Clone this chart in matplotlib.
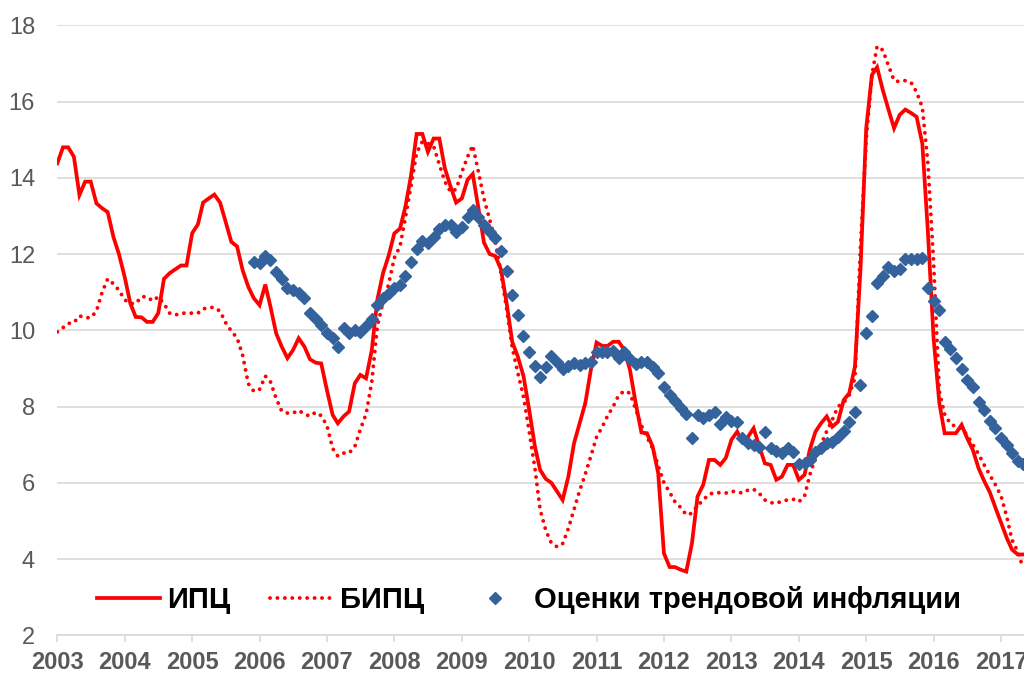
import numpy as np
import pandas as pd
import matplotlib
matplotlib.use("Agg")
import matplotlib.pyplot as plt
import matplotlib.dates as mdates

plt.rcParams['font.family'] = ['Liberation Sans', 'DejaVu Sans']

# monthly data, Jan 2003 .. May 2017
months = pd.date_range('2003-01-01', periods=173, freq='MS')

cpi = [
    14.38, 14.8, 14.8, 14.55, 13.55, 13.9, 13.9, 13.33, 13.2, 13.1, 12.45, 12.0,
    11.4, 10.7, 10.35, 10.34, 10.22, 10.22, 10.45, 11.35, 11.5, 11.6, 11.7, 11.7,
    12.55, 12.78, 13.35, 13.46, 13.56, 13.35, 12.85, 12.32, 12.2, 11.58, 11.14, 10.84,
    10.66, 11.2, 10.62, 9.92, 9.57, 9.27, 9.48, 9.79, 9.57, 9.24, 9.15, 9.13,
    8.43, 7.78, 7.56, 7.74, 7.87, 8.61, 8.83, 8.74, 9.48, 10.8, 11.5, 11.95,
    12.54, 12.67, 13.24, 14.07, 15.15, 15.15, 14.68, 15.03, 15.03, 14.25, 13.77, 13.35,
    13.46, 13.95, 14.1, 13.2, 12.3, 12.0, 11.95, 11.6, 10.7, 9.7, 9.3, 8.8,
    7.91, 6.95, 6.34, 6.1, 6.0, 5.77, 5.55, 6.16, 7.04, 7.56, 8.09, 8.96,
    9.68, 9.59, 9.59, 9.7, 9.7, 9.48, 8.96, 8.09, 7.32, 7.3, 6.95, 6.25,
    4.15, 3.79, 3.79, 3.72, 3.67, 4.42, 5.64, 5.95, 6.6, 6.6, 6.47, 6.65,
    7.13, 7.34, 7.08, 7.21, 7.43, 6.95, 6.51, 6.47, 6.08, 6.16, 6.47, 6.47,
    6.08, 6.21, 6.86, 7.34, 7.56, 7.74, 7.47, 7.6, 8.17, 8.35, 9.05, 11.6,
    15.3, 16.7, 16.9, 16.3, 15.8, 15.3, 15.65, 15.79, 15.7, 15.6, 14.9, 12.6,
    9.8, 8.1, 7.3, 7.3, 7.3, 7.52, 7.17, 6.86, 6.38, 6.05, 5.75, 5.35,
    4.95, 4.55, 4.25, 4.12, 4.12,
]

core_cpi = [
    9.96, 10.07, 10.18, 10.2, 10.38, 10.33, 10.33, 10.5, 11.0, 11.35, 11.22, 11.05,
    10.8, 10.7, 10.7, 10.88, 10.88, 10.77, 10.88, 10.7, 10.45, 10.4, 10.45, 10.45,
    10.45, 10.45, 10.56, 10.6, 10.6, 10.5, 10.2, 9.98, 9.8, 9.35, 8.6, 8.4,
    8.45, 8.8, 8.65, 8.21, 7.88, 7.83, 7.83, 7.9, 7.8, 7.75, 7.85, 7.76,
    7.5, 6.9, 6.7, 6.78, 6.78, 6.95, 7.4, 7.8, 8.65, 10.1, 10.75, 11.2,
    11.9, 12.2, 12.95, 13.8, 14.65, 14.95, 14.9, 14.83, 14.35, 13.9, 13.63, 13.7,
    14.15, 14.55, 14.85, 14.15, 13.45, 12.9, 12.35, 11.5, 10.55, 9.55, 8.87, 8.26,
    7.35, 6.38, 5.3, 4.75, 4.42, 4.32, 4.4, 4.8, 5.3, 5.79, 6.23, 6.7,
    7.2, 7.47, 7.75, 8.0, 8.3, 8.41, 8.35, 7.93, 7.5, 7.2, 6.9, 6.45,
    6.0, 5.75, 5.5, 5.35, 5.16, 5.2, 5.4, 5.55, 5.7, 5.74, 5.74, 5.73,
    5.78, 5.76, 5.73, 5.81, 5.83, 5.72, 5.55, 5.48, 5.46, 5.52, 5.55, 5.57,
    5.5, 5.65, 6.2, 6.65, 7.0, 7.35, 7.65, 8.0, 8.1, 8.3, 8.75, 12.2,
    15.0, 16.7, 17.45, 17.35, 16.95, 16.55, 16.52, 16.55, 16.5, 16.25, 15.85, 14.4,
    11.8, 8.4, 7.8, 7.55, 7.47, 7.43, 7.25, 7.0, 6.75, 6.47, 6.2, 5.95,
    5.65, 5.1, 4.5, 4.2, 3.75,
]

# trend inflation estimates start in Dec 2005
trend_start = 35
trend = [
    11.8,
    11.76, 11.95, 11.84, 11.54, 11.34, 11.1, 11.07, 10.99, 10.85, 10.45, 10.29, 10.14,
    9.94, 9.79, 9.55, 10.05, 9.94, 10.01, 9.95, 10.11, 10.29, 10.66, 10.84, 10.97,
    11.1, 11.2, 11.42, 11.8, 12.12, 12.35, 12.3, 12.44, 12.65, 12.76, 12.76, 12.58,
    12.72, 12.96, 13.15, 12.98, 12.76, 12.58, 12.43, 12.08, 11.56, 10.93, 10.4, 9.85,
    9.44, 9.06, 8.78, 9.03, 9.33, 9.18, 8.98, 9.06, 9.13, 9.09, 9.13, 9.18,
    9.42, 9.44, 9.44, 9.47, 9.27, 9.44, 9.24, 9.11, 9.16, 9.18, 9.05, 8.87,
    8.52, 8.3, 8.15, 7.95, 7.81, 7.17, 7.78, 7.7, 7.78, 7.86, 7.54, 7.72,
    7.63, 7.6, 7.17, 7.04, 6.99, 6.93, 7.34, 6.91, 6.84, 6.79, 6.91, 6.82,
    6.49, 6.51, 6.61, 6.82, 6.91, 7.04, 7.08, 7.2, 7.37, 7.6, 7.87, 8.57,
    9.92, 10.37, 11.25, 11.42, 11.67, 11.56, 11.6, 11.86, 11.86, 11.86, 11.89, 11.12,
    10.78, 10.53, 9.7, 9.5, 9.27, 8.98, 8.7, 8.51, 8.13, 7.91, 7.63, 7.43,
    7.17, 6.99, 6.78, 6.58, 6.5,
]

years = list(range(2003, 2018))
labels = ['ИПЦ', 'БИПЦ', 'Оценки трендовой инфляции']

fig = plt.figure(figsize=(10.24, 6.73), dpi=100)
ax = fig.add_axes([57.3 / 1024, 37.7 / 673, 1 - 57.3 / 1024, 610 / 673])

ax.plot(months, cpi, color='#ff0000', lw=2.7, solid_joinstyle='miter', label=labels[0])
ax.plot(months, core_cpi, color='#ff0000', lw=2.8, linestyle=(0, (0.01, 1.9)),
        dash_capstyle='round', label=labels[1])
ax.plot(months[trend_start:trend_start + len(trend)], trend, linestyle='none',
        marker='D', ms=6.2, color='#33629c', mec='#33629c', label=labels[2])

ax.set_ylim(2, 18)
ax.set_yticks(range(2, 19, 2))
ax.set_xlim(pd.Timestamp('2003-01-01'), pd.Timestamp('2017-05-05'))
ax.set_xticks([pd.Timestamp(f'{y}-01-01') for y in years])
ax.xaxis.set_major_formatter(mdates.DateFormatter('%Y'))

ax.grid(axis='y', color='#d9d9d9', lw=1.2)
ax.set_axisbelow(True)
for s in ['left', 'right', 'top']:
    ax.spines[s].set_visible(False)
ax.spines['bottom'].set_color('#d9d9d9')
ax.spines['bottom'].set_linewidth(1.2)

ax.tick_params(axis='y', length=0, pad=16, labelsize=17, labelcolor='#595959')
ax.tick_params(axis='x', length=5, width=1.2, color='#d9d9d9', pad=6,
               labelsize=17, labelcolor='#595959')
for t in ax.get_xticklabels():
    t.set_fontweight('bold')

leg = ax.legend(loc='center left', bbox_to_anchor=(97 / 1024, 73 / 673),
                bbox_transform=fig.transFigure, ncol=3, frameon=False,
                borderpad=0, borderaxespad=0, handlelength=2.16,
                handletextpad=0.25, columnspacing=1.35,
                prop={'size': 21, 'weight': 'bold'})

fig.savefig('out.png', dpi=100)
plt.close()
